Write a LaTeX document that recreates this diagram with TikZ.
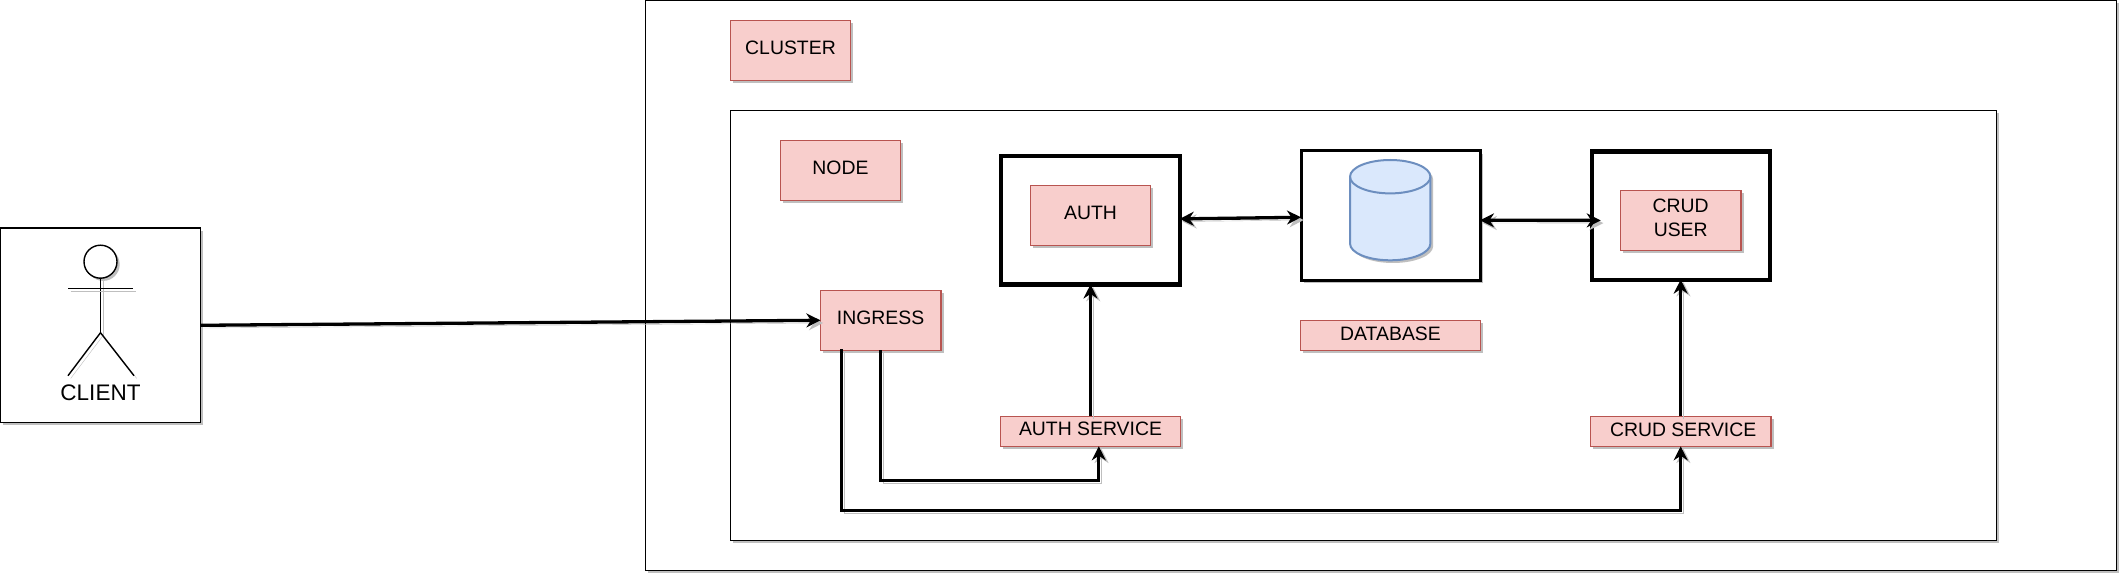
\documentclass[tikz,border=0pt]{standalone}
\usepackage{fontspec}
\setmainfont{Liberation Sans}
\usetikzlibrary{arrows.meta,shadows}

\definecolor{labelred}{HTML}{F8CECC}
\definecolor{labeledge}{HTML}{B85450}
\definecolor{dbblue}{HTML}{DAE8FC}
\definecolor{dbedge}{HTML}{6C8EBF}
\tikzset{
  softshadow/.style={general shadow={shadow xshift=2.7pt,shadow yshift=-2.7pt,fill=black!25}},
  lineshadow/.style={preaction={draw=black!25,transform canvas={shift={(2.7pt,-2.7pt)}}}},
  plainbox/.style={draw=black,fill=white,line width=1.4pt,inner sep=0pt,outer sep=0pt,softshadow},
  podbox/.style={plainbox,line width=#1},
  labelbox/.style={draw=labeledge,fill=labelred,line width=1.4pt,inner sep=0pt,outer sep=0pt,softshadow,
    text height=14pt,text depth=6pt,font=\fontsize{19.4}{24}\selectfont},
  conn/.style={draw=black,line width=3.3pt,-{Stealth[length=14pt,width=14pt,inset=4.5pt]},lineshadow},
  twoway/.style={conn,{Stealth[length=14pt,width=14pt,inset=4.5pt]}-{Stealth[length=14pt,width=14pt,inset=4.5pt]}},
  stick/.style={draw=black,line width=1.4pt,lineshadow}
}

\begin{document}
\begin{tikzpicture}[x=1pt,y=-1pt]
\useasboundingbox (0,0) rectangle (2119,577);
% containers
\node [plainbox,minimum width=1470.5pt,minimum height=570pt] (cluster) at (1381,285.7) {};
\node [plainbox,minimum width=1266pt,minimum height=430.4pt] (nodearea) at (1363.5,325.5) {};
\node [labelbox,minimum width=120.4pt,minimum height=60pt] (clusterlbl) at (790.5,50.3) {CLUSTER};
\node [labelbox,minimum width=120.4pt,minimum height=60pt] (nodelbl) at (840.5,170.3) {NODE};
% client
\node [plainbox,minimum width=200.7pt,minimum height=194.7pt] (client) at (100.3,325.3) {};
\node [draw=black,fill=white,circle,line width=1.4pt,minimum size=33pt,inner sep=0pt,outer sep=0pt,softshadow] (head) at (100.5,261.7) {};
\coordinate (armL) at (68,288.7);
\coordinate (armR) at (133,288.7);
\coordinate (hip) at (100.5,332.7);
\coordinate (legL) at (68,375.7);
\coordinate (legR) at (134,375.7);
\draw [stick] (head.south) -- (hip);
\draw [stick] (armL) -- (armR);
\draw [stick] (legL) -- (hip) -- (legR);
\node [font=\fontsize{22.5}{26}\selectfont,inner sep=0pt] (clientlbl) at (100.5,393) {CLIENT};
% services
\node [labelbox,minimum width=120.4pt,minimum height=60pt] (ingress) at (880.6,320.3) {INGRESS};
\node [podbox=4.2pt,minimum width=178.5pt,minimum height=128.6pt] (auth) at (1090.5,220.2) {};
\node [labelbox,minimum width=120.4pt,minimum height=60pt] (authlbl) at (1090.5,215.5) {AUTH};
\node [podbox=3pt,minimum width=179pt,minimum height=129pt] (db) at (1390.5,215.5) {};
% cylinder
\draw [draw=dbedge,fill=dbblue,line width=2pt,softshadow] (1350,176.7) arc [start angle=180,end angle=0,x radius=40.2pt,y radius=16.7pt]
  -- (1430.4,243.6) arc [start angle=0,end angle=-180,x radius=40.2pt,y radius=16.7pt] -- cycle;
\draw [draw=dbedge,line width=2pt] (1350,176.7) arc [start angle=180,end angle=360,x radius=40.2pt,y radius=16.7pt];
\node [labelbox,minimum width=180.5pt,minimum height=30pt,text height=16.7pt] (dblbl) at (1390.5,335.3) {DATABASE};
\node [podbox=4.2pt,minimum width=178pt,minimum height=128pt] (crud) at (1680.7,215.6) {};
\node [labelbox,minimum width=120.4pt,minimum height=60pt,text height=,text depth=5.5pt,align=center,font=\fontsize{19.4}{24}\selectfont] (crudlbl) at (1680.7,220.3) {CRUD\\USER};
\node [labelbox,minimum width=180.5pt,minimum height=30pt] (authsvc) at (1090.5,431.3) {AUTH SERVICE};
\node [labelbox,minimum width=180.5pt,minimum height=30pt,text height=16.7pt] (crudsvc) at (1680.7,431.3) {\hspace*{5pt}CRUD SERVICE};
% connectors
\coordinate (authbend) at (1098.8,480.3);
\coordinate (authin) at (1098.8,446.3);
\coordinate (ingressout) at (841.2,349);
\coordinate (crudbend) at (1680.7,510.3);
\draw [conn] (client.east) -- (ingress.west);
\draw [conn] (authsvc.north) -- (auth.south);
\draw [conn] (crudsvc.north) -- (crud.south);
\draw [conn] (ingress.south) |- (authbend) -- (authin);
\draw [conn] (ingressout) |- (crudbend) -- (crudsvc.south);
\draw [twoway] ([yshift=1.3pt]auth.east) -- ([yshift=-1.8pt]db.west);
\draw [twoway,shorten >=-9pt] ([yshift=-4.8pt]db.east) -- ([yshift=-4.8pt]crud.west);
\end{tikzpicture}
\end{document}
